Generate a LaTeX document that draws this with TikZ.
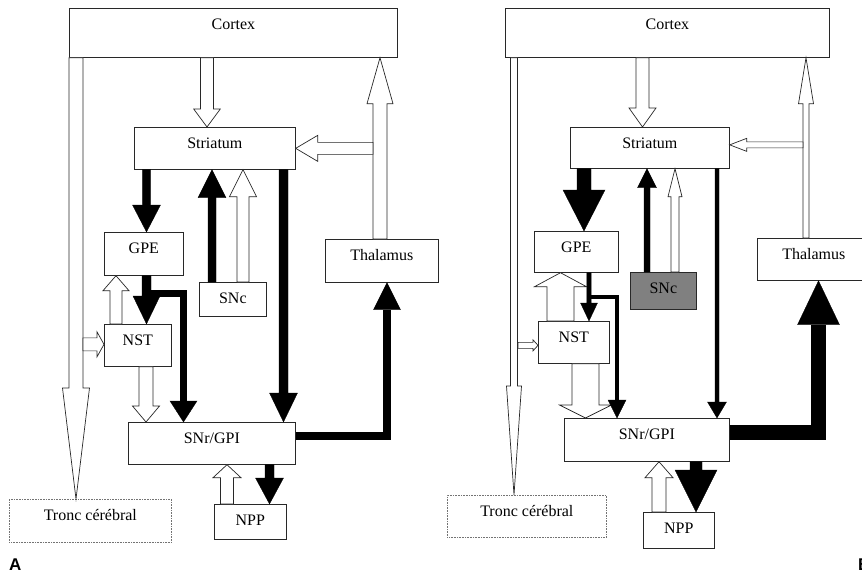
\documentclass[tikz,border=0pt]{standalone}
\usepackage{fontspec}
\setmainfont{Liberation Serif}
\newfontfamily\panelfont{Liberation Sans}
\usetikzlibrary{arrows.meta,calc}
\definecolor{sncgray}{RGB}{128,128,128}
\definecolor{edge}{RGB}{40,40,40}

\begin{document}
\begin{tikzpicture}[x=1pt,y=-1pt,
  font=\fontsize{16}{18}\selectfont,
  box/.style={draw=edge, line width=0.7pt, fill=white, inner sep=0pt,
    text height=21.5pt, anchor=north west},
  dotbox/.style={box, draw=black!55, dash pattern=on 0.8pt off 0.8pt},
  wblk/.style={draw=edge, line width=0.7pt, fill=white, line join=miter},
  bblk/.style={draw=black, line width=0.3pt, fill=black, line join=miter},
  bline/.style={draw=black, line width=#1, line join=miter, line cap=butt},
  % vertical block arrow: shaft half width / head half width / signed head length
  vblk/.style args={#1/#2/#3}{to path={let \p1=(\tikztostart), \p2=(\tikztotarget) in
    ({\x2-#1},{\y1}) -- ({\x2-#1},{\y2+(#3)}) -- ({\x2-#2},{\y2+(#3)}) -- (\x2,\y2)
    -- ({\x2+#2},{\y2+(#3)}) -- ({\x2+#1},{\y2+(#3)}) -- ({\x2+#1},{\y1}) -- cycle}},
  % horizontal block arrow
  hblk/.style args={#1/#2/#3}{to path={let \p1=(\tikztostart), \p2=(\tikztotarget) in
    ({\x1},{\y2-#1}) -- ({\x2+(#3)},{\y2-#1}) -- ({\x2+(#3)},{\y2-#2}) -- (\x2,\y2)
    -- ({\x2+(#3)},{\y2+#2}) -- ({\x2+(#3)},{\y2+#1}) -- ({\x1},{\y2+#1}) -- cycle}},
]
\useasboundingbox (0,0) rectangle (862,573);
\clip (0,0) rectangle (862,573);

% ---------------- panel A: boxes ----------------
\node[box, minimum width=328pt, text depth=27.5pt] (cortexA)   at (69,8)    {Cortex};
\node[box, minimum width=161pt, text depth=20.5pt] (striatumA) at (134,127) {Striatum};
\node[box, minimum width=79pt,  text depth=21.5pt] (gpeA)      at (104,232) {GPE};
\node[box, minimum width=67pt,  text depth=12.5pt] (sncA)      at (199,282) {SNc};
\node[box, minimum width=113pt, text depth=21.5pt] (thalA)     at (325,239) {Thalamus};
\node[box, minimum width=67pt,  text depth=20.5pt] (nstA)      at (104,324) {NST};
\node[box, minimum width=167pt, text depth=20.5pt] (snrA)      at (128,422) {SNr/GPI};
\node[dotbox, minimum width=162pt, text depth=21.5pt] (troncA) at (9,499)   {Tronc cérébral};
\node[box, minimum width=72pt,  text depth=13.5pt] (nppA)      at (214,504) {NPP};

% ---------------- panel B: boxes ----------------
\node[box, minimum width=324pt, text depth=27.5pt] (cortexB)   at (505,8)   {Cortex};
\node[box, minimum width=159pt, text depth=19.5pt] (striatumB) at (570,127) {Striatum};
\node[box, minimum width=84pt,  text depth=19.5pt] (gpeB)      at (534,231) {GPE};
\node[box, fill=sncgray, minimum width=66pt, text depth=15.5pt] (sncB) at (630,272) {SNc};
\node[box, minimum width=113pt, text depth=20.5pt] (thalB)     at (757,238) {Thalamus};
\node[box, minimum width=71pt,  text depth=20.5pt] (nstB)      at (538,321) {NST};
\node[box, minimum width=165pt, text depth=21.5pt] (snrB)      at (564,418) {SNr/GPI};
\node[dotbox, minimum width=159pt, text depth=20.5pt] (troncB) at (447,495) {Tronc cérébral};
\node[box, minimum width=71pt,  text depth=14.5pt] (nppB)      at (643,512) {NPP};

% ---------------- panel A: white (excitatory) arrows ----------------
\draw[wblk] (cortexA.south) to[vblk=7pt/13.5pt/111pt] ($(troncA.north west)+(67,0)$);
\draw[wblk] (cortexA.south) to[vblk=6.5pt/13.3pt/18pt] ($(striatumA.north west)+(73,0)$);
\draw[wblk] (thalA.north) to[vblk=7pt/13pt/-46pt] ($(cortexA.south west)+(311,0)$);
\draw[wblk] ($(thalA.north west)+(48,0)$) to[hblk=6pt/13pt/22pt] (striatumA.east);
\draw[wblk] (nstA.north) to[vblk=6pt/13pt/-15pt] ($(gpeA.south west)+(12,0)$);
\draw[wblk] ($(troncA.north west)+(74,0)$) to[hblk=6.5pt/12.5pt/-7pt] ($(nstA.west)+(0,-1)$);
\draw[wblk] (nstA.south) to[vblk=7pt/13.5pt/16pt] ($(snrA.north west)+(18,0)$);
\draw[wblk] (sncA.north) to[vblk=6pt/13.5pt/-27pt] ($(striatumA.south west)+(109,0)$);
\draw[wblk] (nppA.north) to[vblk=6.5pt/14pt/-13pt] ($(snrA.south west)+(99,0)$);

% ---------------- panel A: black (inhibitory) arrows ----------------
\draw[bblk] (striatumA.south) to[vblk=4.2pt/14pt/27pt] ($(gpeA.north west)+(42.5,0)$);
\draw[bblk] (gpeA.south) to[vblk=4.5pt/13.5pt/28pt] ($(nstA.north west)+(42.5,0)$);
\draw[bline=7.5pt, shorten >=21pt] ($(gpeA.south west)+(42.5,18)$) -| ($(snrA.north west)+(55.5,0)$);
\draw[bblk] ($(snrA.north west)+(55.5,-21)$) to[vblk=3.75pt/13.5pt/21pt] ($(snrA.north west)+(55.5,0)$);
\draw[bblk] (sncA.north) to[vblk=4pt/14pt/-28pt] ($(striatumA.south west)+(78,0)$);
\draw[bblk] (striatumA.south) to[vblk=4.5pt/14pt/29pt] ($(snrA.north west)+(155.5,0)$);
\draw[bline=8pt, shorten >=27pt] ($(snrA.east)+(0,-7)$) -| ($(thalA.south west)+(62,0)$);
\draw[bblk] ($(thalA.south west)+(62,27)$) to[vblk=4pt/13.5pt/-27pt] ($(thalA.south west)+(62,0)$);
\draw[bblk] (snrA.south) to[vblk=4.5pt/14pt/26pt] ($(nppA.north west)+(55.5,0)$);

% ---------------- panel B: white (excitatory) arrows ----------------
\draw[wblk] (cortexB.south) to[vblk=3.5pt/7.5pt/109pt] ($(troncB.north west)+(67,0)$);
\draw[wblk] (cortexB.south) to[vblk=6.5pt/13.5pt/19pt] ($(striatumB.north west)+(72.5,0)$);
\draw[wblk] (thalB.north) to[vblk=3pt/7.5pt/-46pt] ($(cortexB.south west)+(301,0)$);
\draw[wblk] ($(thalB.north west)+(46,0)$) to[hblk=3pt/6.5pt/17pt] ($(striatumB.east)+(0,-3)$);
\draw[wblk] (nstB.north) to[vblk=13.5pt/26pt/-14pt] ($(gpeB.south west)+(26.5,0)$);
\draw[wblk] ($(troncB.north west)+(71,0)$) to[hblk=3pt/5.5pt/-5pt] ($(nstB.west)+(0,3)$);
\draw[wblk] (nstB.south) to[vblk=13.5pt/26pt/13pt] ($(snrB.north west)+(21.5,0)$);
\draw[wblk] (sncB.north) to[vblk=4pt/7pt/-28pt] ($(striatumB.south west)+(105,0)$);
\draw[wblk] (nppB.north) to[vblk=7pt/14pt/-16pt] ($(snrB.south west)+(95,0)$);

% ---------------- panel B: black (inhibitory) arrows ----------------
\draw[bblk] (striatumB.south) to[vblk=7pt/21pt/41pt] ($(gpeB.north west)+(50,0)$);
\draw[bblk] (gpeB.south) to[vblk=2.2pt/8.5pt/18pt] ($(nstB.north west)+(51,0)$);
\draw[bline=3.5pt, shorten >=18pt] ($(gpeB.south west)+(55,24.5)$) -| ($(snrB.north west)+(53,0)$);
\draw[bblk] ($(snrB.north west)+(53,-18)$) to[vblk=1.75pt/9pt/18pt] ($(snrB.north west)+(53,0)$);
\draw[bblk] (sncB.north) to[vblk=3pt/9.5pt/-19pt] ($(striatumB.south west)+(77,0)$);
\draw[bblk] (striatumB.south) to[vblk=2pt/9.5pt/16pt] ($(snrB.north west)+(153,0)$);
\draw[bline=14.5pt, shorten >=44pt] ($(snrB.east)+(0,-7.5)$) -| ($(thalB.south west)+(61.5,0)$);
\draw[bblk] ($(thalB.south west)+(61.5,44)$) to[vblk=7.25pt/21pt/-44pt] ($(thalB.south west)+(61.5,0)$);
\draw[bblk] (snrB.south) to[vblk=6pt/21pt/42pt] ($(nppB.north west)+(53,0)$);

% ---------------- panel letters ----------------
\node[anchor=base west, inner sep=0pt, font=\panelfont\bfseries\fontsize{17}{17}\selectfont] (labA) at (9,570) {A};
\node[anchor=base west, inner sep=0pt, font=\panelfont\bfseries\fontsize{17}{17}\selectfont] (labB) at (857.8,570) {B};
\end{tikzpicture}
\end{document}
